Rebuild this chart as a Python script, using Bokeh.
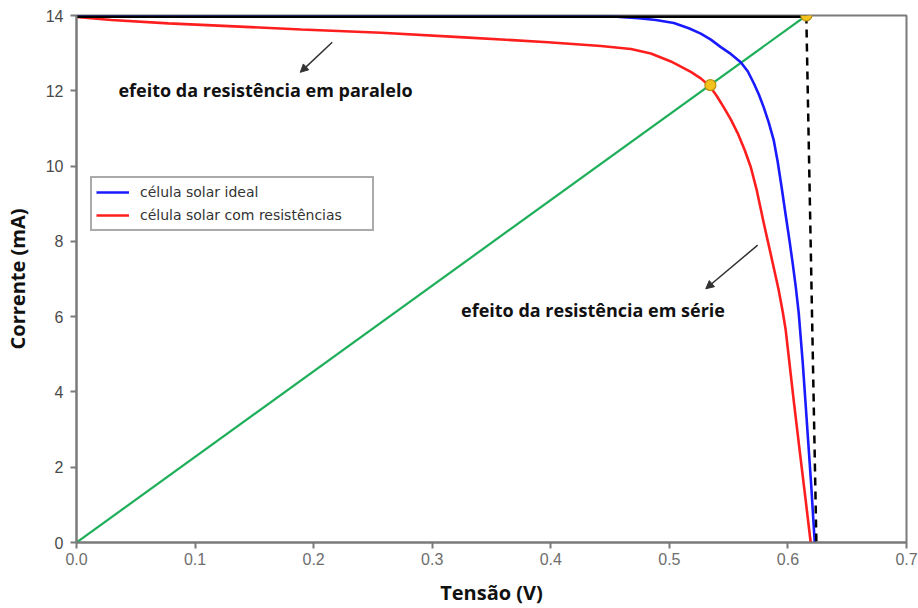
from bokeh.plotting import figure
from bokeh.models import (Range1d, Label, Arrow, NormalHead, Legend, LegendItem,
                          FixedTicker, NumeralTickFormatter)
from bokeh.embed import file_html
from bokeh.resources import INLINE

# ---- data ----
ideal_v = [0.0, 0.30, 0.44, 0.474, 0.4886, 0.5038, 0.5164, 0.5265, 0.5350, 0.5434,
           0.5518, 0.5602, 0.5661, 0.5712, 0.5754, 0.5796, 0.5838, 0.5880, 0.5914, 0.5948,
           0.5981, 0.6015, 0.6040, 0.6066, 0.6091, 0.6125, 0.6146, 0.6171, 0.6196, 0.6226]
ideal_i = [14.0, 14.0, 14.0, 13.93, 13.88, 13.80, 13.66, 13.52, 13.36, 13.16,
           12.98, 12.76, 12.52, 12.20, 11.91, 11.56, 11.16, 10.69, 10.11, 9.41,
           8.70, 7.98, 7.42, 6.79, 6.10, 4.77, 3.82, 2.68, 1.54, 0.0]

res_v = [0.0, 0.0295, 0.0775, 0.1331, 0.1896, 0.2570, 0.3269, 0.3976, 0.4423, 0.4676,
         0.4844, 0.5013, 0.5181, 0.5265, 0.5341, 0.5400, 0.5459, 0.5518, 0.5577, 0.5636,
         0.5687, 0.5737, 0.5796, 0.5838, 0.5872, 0.5922, 0.5956, 0.5981, 0.6007, 0.6049,
         0.6099, 0.6150, 0.6192]
res_i = [13.96, 13.88, 13.79, 13.71, 13.63, 13.54, 13.42, 13.29, 13.19, 13.11,
         12.99, 12.78, 12.50, 12.33, 12.12, 11.86, 11.56, 11.24, 10.87, 10.42,
         9.97, 9.36, 8.49, 7.90, 7.42, 6.71, 6.13, 5.65, 4.93, 3.77,
         2.44, 1.11, 0.0]

load_v = [0.0, 0.6155]
load_i = [0.0, 14.0]

isc_v = [0.0, 0.6155]
isc_i = [14.0, 14.0]

voc_v = [0.6155, 0.624]
voc_i = [14.0, 0.0]

mpp_v = [0.6155, 0.5346]
mpp_i = [14.0, 12.15]

x_ticks = [0.0, 0.1, 0.2, 0.3, 0.4, 0.5, 0.6, 0.7]
y_ticks = [0, 2, 4, 6, 8, 10, 12, 14]

legend_labels = ["célula solar ideal", "célula solar com resistências"]
note_parallel = "efeito da resistência em paralelo"
note_series = "efeito da resistência em série"

# ---- figure ----
p = figure(width=918, height=608, output_backend="svg", toolbar_location=None,
           x_range=Range1d(0, 0.7), y_range=Range1d(0, 14),
           min_border_left=75, min_border_right=12, min_border_top=15, min_border_bottom=65,
           background_fill_color="white", border_fill_color="white")

p.grid.visible = False
p.outline_line_color = "#7a7a7a"
p.outline_line_width = 2

grey = "#7a7a7a"
for ax in (p.xaxis[0], p.yaxis[0]):
    ax.axis_line_color = grey
    ax.axis_line_width = 2
    ax.major_tick_line_color = grey
    ax.major_tick_line_width = 2
    ax.minor_tick_line_color = None
    ax.major_label_text_font = "Liberation Sans"
    ax.major_label_text_font_size = "16px"
    ax.axis_label_text_font = "Open Sans"
    ax.axis_label_text_font_style = "bold"
    ax.axis_label_text_font_size = "20px"
    ax.axis_label_text_color = "#111111"

p.xaxis.ticker = FixedTicker(ticks=x_ticks)
p.yaxis.ticker = FixedTicker(ticks=y_ticks)
p.xaxis.formatter = NumeralTickFormatter(format="0.0")
p.xaxis.major_tick_in = 0
p.xaxis.major_tick_out = 6
p.xaxis.major_label_standoff = 4
p.xaxis.major_label_text_color = "#6e6e6e"
p.xaxis.axis_label = "Tensão (V)"
p.xaxis.axis_label_standoff = 11

p.yaxis.major_tick_in = 0
p.yaxis.major_tick_out = 6
p.yaxis.major_label_standoff = 7
p.yaxis.major_label_text_color = "#4a4a4a"
p.yaxis.axis_label = "Corrente (mA)"
p.yaxis.axis_label_standoff = 12

# ---- glyphs ----
p.line(load_v, load_i, line_color="#1fae5a", line_width=2.2)
r_ideal = p.line(ideal_v, ideal_i, line_color="#1a1aff", line_width=2.6)
r_res = p.line(res_v, res_i, line_color="#ff1e1e", line_width=2.6)
p.line(isc_v, isc_i, line_color="black", line_width=5)
p.line(voc_v, voc_i, line_color="black", line_width=2.5, line_dash="8 6")
p.scatter(mpp_v, mpp_i, size=11, fill_color="#f4c21c", line_color="#b8900e", line_width=1.2)

# ---- legend ----
legend = Legend(items=[LegendItem(label=legend_labels[0], renderers=[r_ideal]),
                       LegendItem(label=legend_labels[1], renderers=[r_res])],
                location=(14, 311), orientation="vertical",
                border_line_color="#555555", border_line_width=2,
                background_fill_color="white", background_fill_alpha=1,
                label_text_font="DejaVu Sans", label_text_font_size="14px",
                label_text_color="#333333",
                glyph_width=33, glyph_height=20, label_height=20, label_width=228,
                spacing=3, padding=4, margin=0, label_standoff=11)
p.add_layout(legend, "center")

# ---- annotations ----
p.add_layout(Label(x=0.0354, y=12.01, text=note_parallel, text_font="Open Sans",
                   text_font_style="bold", text_font_size="18px", text_color="#111111",
                   text_baseline="middle"))
p.add_layout(Label(x=0.3243, y=6.18, text=note_series, text_font="Open Sans",
                   text_font_style="bold", text_font_size="18px", text_color="#111111",
                   text_baseline="middle"))

arrow_color = "#333333"
p.add_layout(Arrow(x_start=0.2157, y_start=13.29, x_end=0.1887, y_end=12.49,
                   line_color=arrow_color, line_width=1.5,
                   end=NormalHead(size=8, fill_color=arrow_color, line_color=arrow_color)))
p.add_layout(Arrow(x_start=0.5745, y_start=7.90, x_end=0.5307, y_end=6.74,
                   line_color=arrow_color, line_width=1.5,
                   end=NormalHead(size=8, fill_color=arrow_color, line_color=arrow_color)))

open("out.html", "w").write(file_html(p, INLINE))
